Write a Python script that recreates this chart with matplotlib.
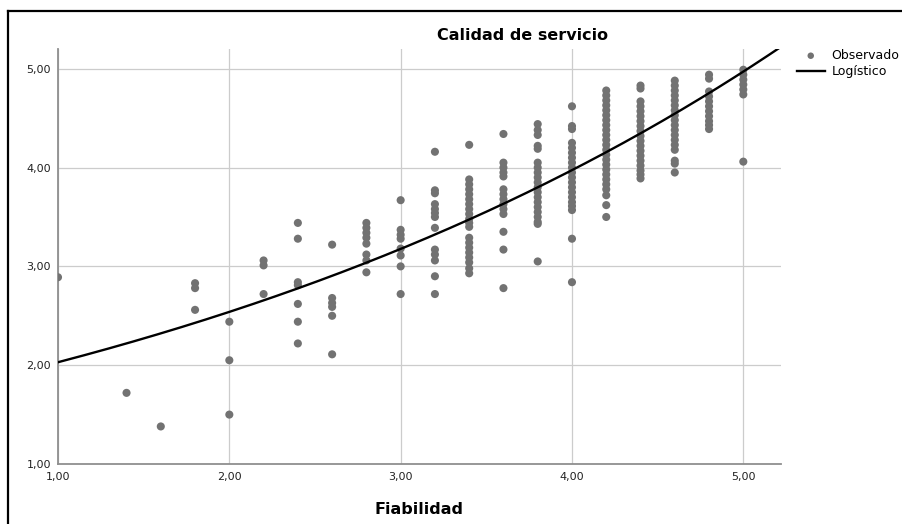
import matplotlib
matplotlib.use("Agg")
import matplotlib.pyplot as plt
from matplotlib.lines import Line2D
import numpy as np

# ---- data ----
fiabilidad_levels = [1.0, 1.4, 1.6, 1.8, 2.0, 2.2, 2.4, 2.6, 2.8, 3.0,
                     3.2, 3.4, 3.6, 3.8, 4.0, 4.2, 4.4, 4.6, 4.8, 5.0]
calidad_by_level = [
    [2.89],
    [1.72],
    [1.38],
    [2.83, 2.78, 2.56],
    [2.44, 2.05, 1.50],
    [3.06, 3.01, 2.72],
    [3.44, 3.28, 2.84, 2.81, 2.62, 2.44, 2.22],
    [3.22, 2.68, 2.63, 2.59, 2.50, 2.11],
    [3.44, 3.39, 3.34, 3.29, 3.23, 3.12, 3.06, 2.94],
    [3.67, 3.37, 3.32, 3.28, 3.18, 3.11, 3.00, 2.72],
    [4.16, 3.77, 3.74, 3.63, 3.58, 3.54, 3.50, 3.39, 3.17, 3.12, 3.06, 2.90, 2.72],
    [4.23, 3.88, 3.83, 3.78, 3.73, 3.68, 3.63, 3.58, 3.53, 3.48, 3.44, 3.40,
     3.29, 3.24, 3.19, 3.14, 3.09, 3.04, 2.98, 2.93],
    [4.34, 4.05, 4.00, 3.95, 3.91, 3.78, 3.73, 3.68, 3.63, 3.58, 3.53, 3.35, 3.17, 2.78],
    [4.44, 4.38, 4.33, 4.22, 4.19, 4.05, 4.00, 3.95, 3.90, 3.85, 3.80, 3.75, 3.70,
     3.65, 3.60, 3.55, 3.50, 3.45, 3.43, 3.05],
    [4.62, 4.42, 4.39, 4.25, 4.20, 4.15, 4.10, 4.05, 4.00, 3.95, 3.90, 3.85, 3.80,
     3.75, 3.70, 3.65, 3.61, 3.57, 3.28, 2.84],
    [4.78, 4.73, 4.68, 4.63, 4.58, 4.53, 4.48, 4.43, 4.38, 4.33, 4.28, 4.23, 4.18,
     4.13, 4.08, 4.03, 3.98, 3.93, 3.88, 3.83, 3.78, 3.72, 3.62, 3.50],
    [4.83, 4.80, 4.67, 4.62, 4.57, 4.52, 4.47, 4.42, 4.37, 4.32, 4.27, 4.22, 4.17,
     4.12, 4.07, 4.02, 3.97, 3.93, 3.89],
    [4.88, 4.83, 4.78, 4.73, 4.68, 4.63, 4.58, 4.53, 4.48, 4.43, 4.38, 4.33, 4.28,
     4.23, 4.18, 4.07, 4.04, 3.95],
    [4.94, 4.90, 4.77, 4.72, 4.67, 4.62, 4.57, 4.52, 4.47, 4.43, 4.39],
    [4.99, 4.94, 4.89, 4.84, 4.79, 4.74, 4.06],
]

# logistic model (SPSS form y = 1 / (b0 * b1**x), no upper bound)
logistic_b0 = 0.6162
logistic_b1 = 0.7994

x_ticks = [1.0, 2.0, 3.0, 4.0, 5.0]
y_ticks = [1.0, 2.0, 3.0, 4.0, 5.0]
tick_labels = ["1,00", "2,00", "3,00", "4,00", "5,00"]

title = "Calidad de servicio"
xlabel = "Fiabilidad"
legend_labels = ["Observado", "Logístico"]

# ---- build points ----
xs, ys = [], []
for xv, col in zip(fiabilidad_levels, calidad_by_level):
    xs.extend([xv] * len(col))
    ys.extend(col)

W, H = 902, 524
fig = plt.figure(figsize=(W / 100, H / 100), dpi=100)
fig.patch.set_facecolor("white")

ax = fig.add_axes([58 / W, 1 - 464 / H, (781 - 58) / W, (464 - 49) / H])
ax.set_xlim(1.0, 5.22)
ax.set_ylim(1.0, 5.2)

ax.grid(True, color="#cccccc", linewidth=0.9, zorder=0)
ax.set_axisbelow(True)

sc = ax.scatter(xs, ys, s=34, color="#727272", edgecolors="none", zorder=3,
                label=legend_labels[0])

xc = np.linspace(1.0, 5.22, 300)
yc = 1.0 / (logistic_b0 * logistic_b1 ** xc)
ln, = ax.plot(xc, yc, color="black", linewidth=1.7, zorder=4, label=legend_labels[1])

ax.set_xticks(x_ticks)
ax.set_xticklabels(tick_labels)
ax.set_yticks(y_ticks)
ax.set_yticklabels(tick_labels)
ax.tick_params(axis="both", length=0, labelsize=8, colors="#222222")
ax.tick_params(axis="x", pad=6)
ax.tick_params(axis="y", pad=5)

for side in ("top", "right"):
    ax.spines[side].set_visible(False)
for side in ("left", "bottom"):
    ax.spines[side].set_color("#8f8f8f")
    ax.spines[side].set_linewidth(1.3)

fig.text(523 / W, 1 - 40 / H, title, ha="center", va="baseline",
         fontsize=11.5, fontweight="bold")
fig.text(419 / W, 1 - 514 / H, xlabel, ha="center", va="baseline",
         fontsize=11.5, fontweight="bold")

leg = fig.legend(handles=[sc, ln], labels=legend_labels,
                 loc="upper left", bbox_to_anchor=(797 / W, 1 - 49 / H),
                 frameon=False, fontsize=9, borderpad=0, borderaxespad=0,
                 handlelength=2.2, handletextpad=0.55, labelspacing=0.25,
                 scatterpoints=1, markerscale=0.8)

# outer frame of the output (left and top edges visible)
fig.add_artist(Line2D([8 / W, 8 / W], [0, 1 - 11 / H], transform=fig.transFigure,
                      color="black", linewidth=1.6))
fig.add_artist(Line2D([8 / W, 1], [1 - 11 / H, 1 - 11 / H], transform=fig.transFigure,
                      color="black", linewidth=1.6))

fig.savefig("out.png", dpi=100)
